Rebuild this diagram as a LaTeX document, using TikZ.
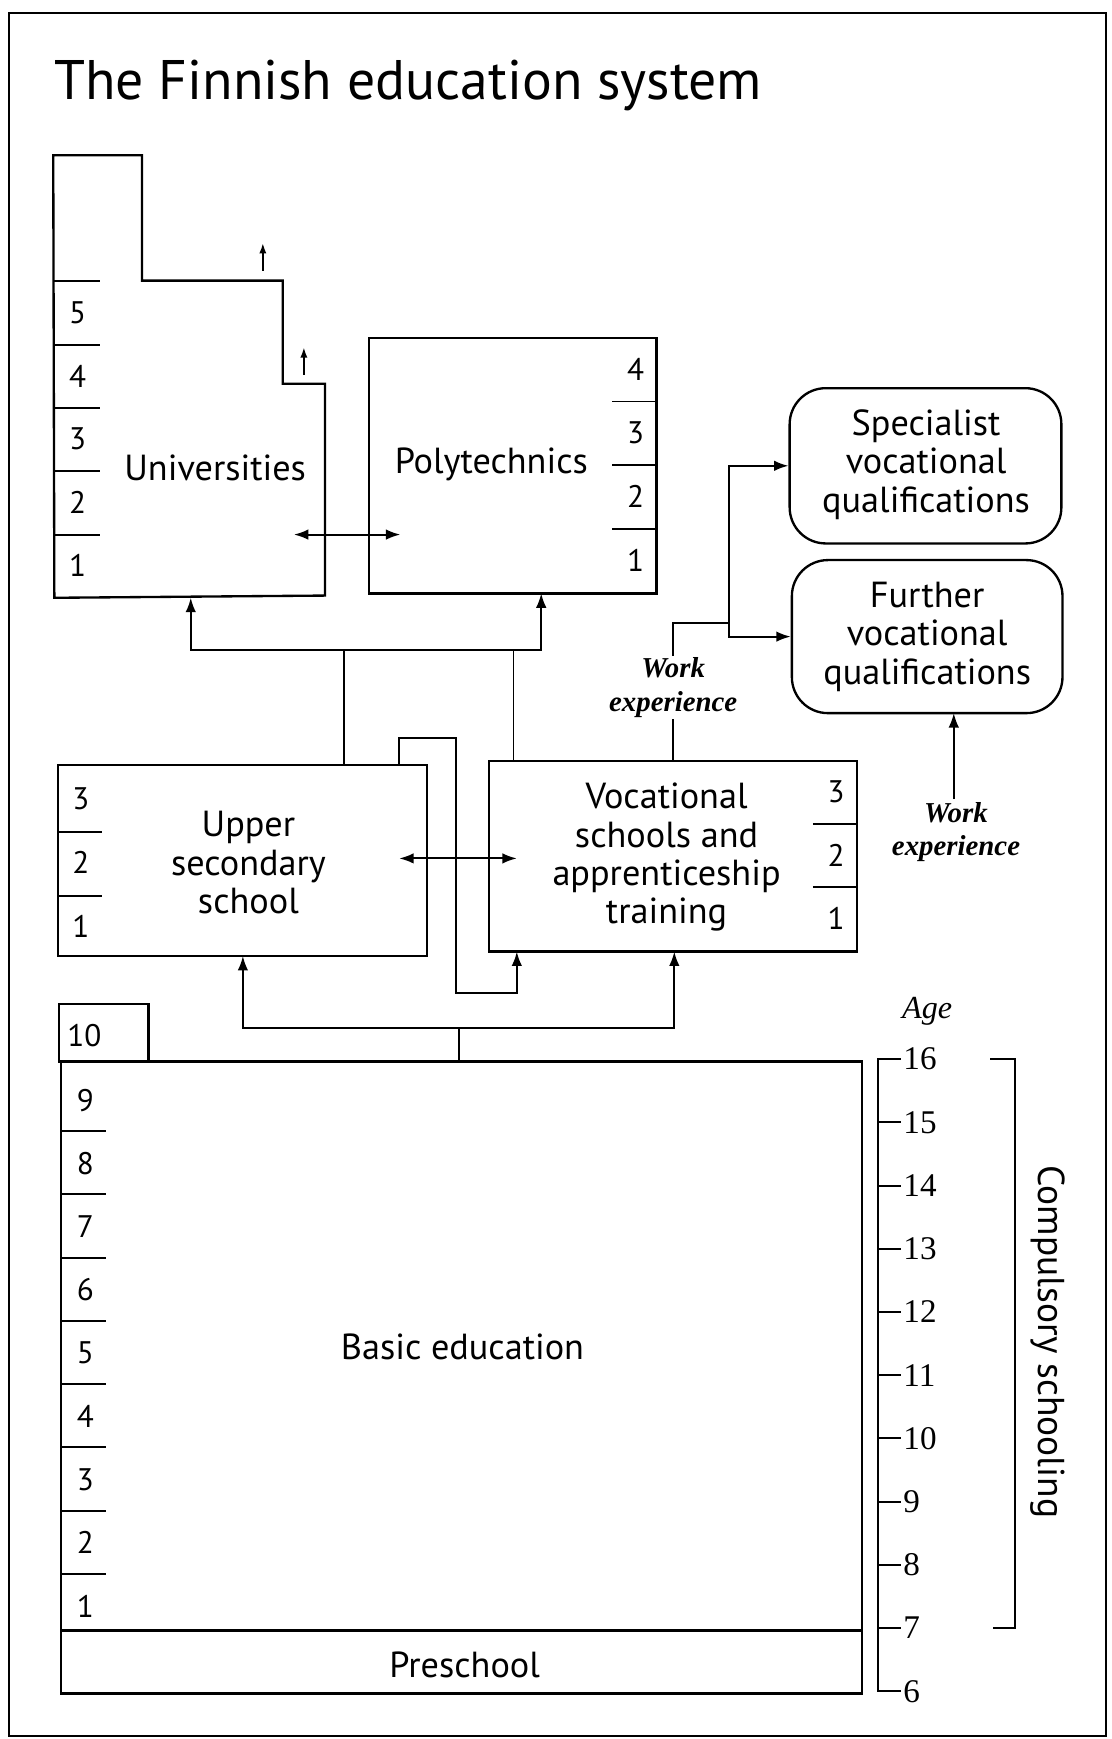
\documentclass[tikz,border=0pt]{standalone}
\usepackage{fontspec}
\setmainfont{Liberation Serif}
\setsansfont{PT Sans}
\usetikzlibrary{arrows.meta, fit}

\begin{document}
\begin{tikzpicture}[x=0.02cm, y=-0.02cm, line width=1pt,
    box/.style={draw, line width=1.2pt, inner sep=0pt, fit={#1}},
    rbox/.style={draw, line width=1.2pt, inner sep=0pt, rounded corners=0.65cm, fit={#1}},
    lbl/.style={font=\sffamily\fontsize{18.6}{19.7}\selectfont, align=center},
    yr/.style={font=\sffamily\fontsize{16}{18}\selectfont, inner sep=0pt},
    age/.style={font=\fontsize{17}{19}\selectfont, anchor=west, inner sep=1pt},
    work/.style={font=\bfseries\itshape\fontsize{14.8}{17}\selectfont, align=center, fill=white, inner sep=1pt},
    arr/.style={-{Latex[length=2.6mm,width=1.9mm]}},
    darr/.style={{Latex[length=2.6mm,width=1.9mm]}-{Latex[length=2.6mm,width=1.9mm]}},
    sarr/.style={-{Latex[length=1.9mm,width=1.3mm]}}]
        \useasboundingbox (0,0) rectangle (1002,1568);
        % frame
        \draw[line width=1.2pt] (8,12) rectangle (997,1565);
        \node[anchor=base west, inner sep=0pt, font=\sffamily\fontsize{28.6}{34}\selectfont] (title) at (48,90) {The Finnish education system};

        % universities
        \draw[line width=1.2pt] (48,140) -- (128,140) -- (128,253) -- (255,253) -- (255,346)
            -- (293,346) -- (293,537) -- (49,539) -- cycle;
        \foreach \y in {253,311,368,425,482} \draw (48,\y) -- (90,\y);
        \foreach \n/\y in {5/282,4/339,3/396,2/453,1/510} \node[yr] (u\n) at (70,\y) {\n};
        \node[lbl] (uni) at (194,422) {Universities};
        \coordinate (ua) at (237,244); \coordinate (ub) at (237,219);
        \coordinate (uc) at (274,338); \coordinate (ud) at (274,313);
        \draw[sarr] (ua) -- (ub);
        \draw[sarr] (uc) -- (ud);

        % polytechnics
        \node[box={(333,305) (592,535)}] (polybox) {};
        \foreach \y in {362,419,477} \draw (552,\y) -- (592,\y);
        \foreach \n/\y in {4/333,3/390,2/448,1/505} \node[yr] (p\n) at (573,\y) {\n};
        \node[lbl] (poly) at (443,419) {Polytechnics};
        \coordinate (unir) at (265,482); \coordinate (polyl) at (361,482);
        \draw[darr] (unir) -- (polyl);

        % qualifications
        \node[rbox={(712,350) (957,490)}] (spec) {};
        \node[lbl] (spect) at (835,419) {Specialist\\vocational\\qualifications};
        \node[rbox={(714,505) (958,643)}] (furth) {};
        \node[lbl] (furtht) at (836,574) {Further\\vocational\\qualifications};

        % upper secondary
        \node[box={(52,690) (385,862)}] (upsec) {};
        \foreach \y in {750,808} \draw (52,\y) -- (92,\y);
        \foreach \n/\y in {3/720,2/778,1/835} \node[yr] (s\n) at (73,\y) {\n};
        \node[lbl] (upsect) at (224,778) {Upper\\secondary\\school};

        % vocational
        \node[box={(441,686) (773,858)}] (voc) {};
        \foreach \y in {743,800} \draw (733,\y) -- (773,\y);
        \foreach \n/\y in {3/714,2/771,1/828} \node[yr] (v\n) at (754,\y) {\n};
        \node[lbl] (voct) at (601,773) {Vocational\\schools and\\apprenticeship\\training};
        \coordinate (upr) at (360,774); \coordinate (vocl) at (466,774);
        \draw[darr] (upr) -- (vocl);

        % links to higher education
        \coordinate (upN) at (310,690); \coordinate (vocN) at (463,687);
        \coordinate (hubl) at (310,586); \coordinate (hubr) at (463,586);
        \coordinate (uniS) at (172,539); \coordinate (polyS) at (488,535);
        \draw (upN) -- (hubl) -- (hubr) -- (vocN);
        \draw[arr] (hubl) -| (uniS);
        \draw[arr] (hubr) -| (polyS);

        % loop from upper secondary to vocational
        \coordinate (loopa) at (360,690); \coordinate (loopb) at (466,858);
        \draw[arr] (loopa) -- (360,665) -- (411,665) -- (411,895) -| (loopb);

        % work experience
        \coordinate (wtop) at (607,686); \coordinate (wjoin) at (657,562);
        \draw (wtop) -- (607,562) -- (wjoin);
        \draw[arr] (wjoin) |- (spec.west);
        \draw[arr] (wjoin) |- (furth.west);
        \node[work] (work1) at (607,620) {Work\\experience};
        \node[work] (work2) at (862,750) {Work\\experience};
        \coordinate (furthS) at (860,643);
        \draw[arr] (work2.north -| furthS) -- (furthS);

        % basic education
        \node[box={(53,905) (134,957)}] (ten) {};
        \node[box={(55,957) (777,1470)}] (basic) {};
        \node[box={(55,1470) (777,1527)}] (presch) {};
        \foreach \y in {1020,1077,1134,1191,1248,1305,1362,1419} \draw (55,\y) -- (96,\y);
        \foreach \n in {1,...,9} \node[yr] (b\n) at (77,{1448-(\n-1)*57}) {\n};
        \node[yr] (b10) at (76,934) {10};
        \node[lbl] (basict) at (417,1214) {Basic education};
        \node[lbl] (prescht) at (419,1501) {Preschool};
        \coordinate (basicN) at (414,957); \coordinate (hubb) at (414,927);
        \coordinate (upS) at (219,862); \coordinate (vocS) at (608,858);
        \draw (basicN) -- (hubb);
        \draw[arr] (hubb) -| (upS);
        \draw[arr] (hubb) -| (vocS);

        % age scale
        \node[font=\itshape\fontsize{16.5}{18}\selectfont] (age) at (836,912) {Age};
        \draw (812,955) -- (792,955) -- (792,1525) -- (812,1525);
        \foreach \a in {6,...,16} {
            \draw (792,{1525-(\a-6)*57}) -- (812,{1525-(\a-6)*57});
            \node[age] (a\a) at (812,{1525-(\a-6)*57}) {\a};
        }
        \draw (893,955) -- (915,955) -- (915,1468) -- (895,1468);
        \node[rotate=-90, font=\sffamily\fontsize{19.2}{22}\selectfont] (comp) at (945,1210) {Compulsory schooling};
\end{tikzpicture}
\end{document}
